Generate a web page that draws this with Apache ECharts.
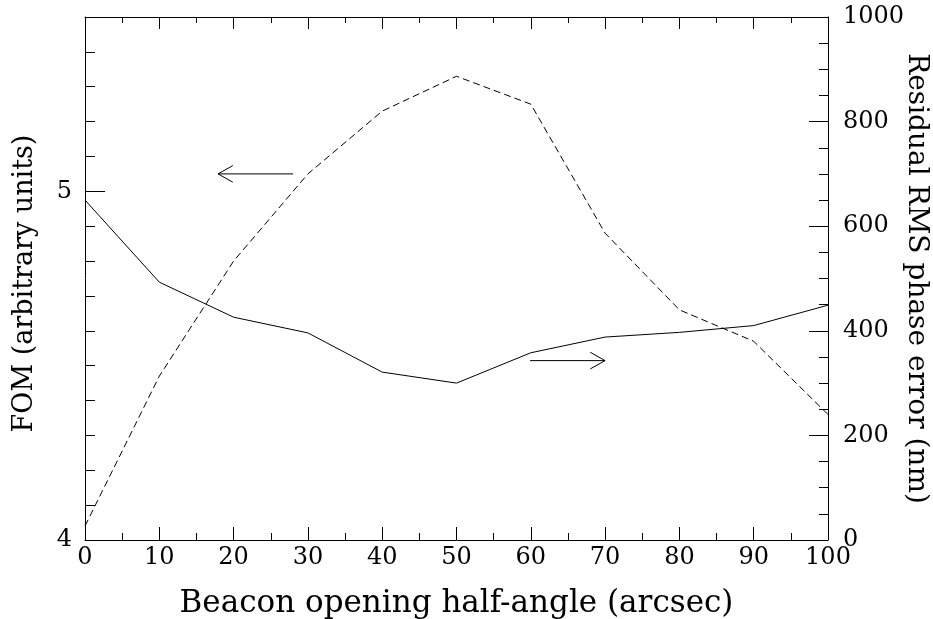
<!DOCTYPE html>
<html>
<head>
<meta charset="utf-8">
<title>FOM vs beacon opening half-angle</title>
<script src="https://cdn.jsdelivr.net/npm/echarts@6/dist/echarts.min.js"></script>
<style>
  html, body { margin: 0; padding: 0; background: #fff; }
  #main { width: 933px; height: 619px; }
</style>
</head>
<body>
<div id="main"></div>
<script>
// beacon opening half-angle (arcsec)
var halfAngle = [0, 10, 20, 30, 40, 50, 60, 70, 80, 90, 100];
// FOM (left axis, dashed)
var fomValues = [4.04, 4.47, 4.80, 5.05, 5.23, 5.33, 5.25, 4.88, 4.66, 4.57, 4.36];
// residual RMS phase error in nm (right axis, solid)
var rmsValues = [650, 493, 426, 396, 321, 300, 358, 388, 397, 410, 449];
// arrows: tail x, tail y, tip x, tip y
var arrowFom = [28.0, 5.05, 17.9, 5.05];
var arrowRms = [59.9, 343, 70.0, 343];

var fomData = [];
var rmsData = [];
for (var i = 0; i < halfAngle.length; i++) {
  fomData.push([halfAngle[i], fomValues[i]]);
  rmsData.push([halfAngle[i], rmsValues[i]]);
}

var fontName = 'DejaVu Serif';

function renderArrow(params, api) {
  var p0 = api.coord([api.value(0), api.value(1)]);
  var p1 = api.coord([api.value(2), api.value(3)]);
  var ang = Math.atan2(p1[1] - p0[1], p1[0] - p0[0]);
  var len = 17, spread = 0.51;
  var a1 = [p1[0] - len * Math.cos(ang - spread), p1[1] - len * Math.sin(ang - spread)];
  var a2 = [p1[0] - len * Math.cos(ang + spread), p1[1] - len * Math.sin(ang + spread)];
  var st = { stroke: '#000', lineWidth: 1, fill: null };
  return {
    type: 'group',
    children: [
      { type: 'polyline', shape: { points: [p0, p1] }, style: st },
      { type: 'polyline', shape: { points: [a1, p1, a2] }, style: st }
    ]
  };
}

var myChart = echarts.init(document.getElementById('main'));

var option = {
  animation: false,
  backgroundColor: '#fff',
  grid: { left: 85, right: 105, top: 17, bottom: 79, containLabel: false, outerBoundsMode: 'none' },
  xAxis: [
    {
      type: 'value',
      position: 'bottom',
      min: 0, max: 100, interval: 10,
      name: 'Beacon opening half-angle (arcsec)',
      nameLocation: 'middle',
      nameGap: 48,
      nameTextStyle: { fontFamily: fontName, fontSize: 31, color: '#000' },
      axisLine: { show: true, lineStyle: { color: '#000', width: 1 } },
      axisTick: { show: true, inside: true, length: 13, lineStyle: { color: '#000' } },
      minorTick: { show: true, splitNumber: 2, length: 7, lineStyle: { color: '#000' } },
      axisLabel: { fontFamily: fontName, fontSize: 24, color: '#000', margin: 6 },
      splitLine: { show: false }
    },
    {
      type: 'value',
      position: 'top',
      min: 0, max: 100, interval: 10,
      axisLine: { show: true, lineStyle: { color: '#000', width: 1 } },
      axisTick: { show: true, inside: true, length: 12, lineStyle: { color: '#000' } },
      minorTick: { show: true, splitNumber: 2, length: 6, lineStyle: { color: '#000' } },
      axisLabel: { show: false },
      splitLine: { show: false }
    }
  ],
  yAxis: [
    {
      type: 'value',
      position: 'left',
      min: 4, max: 5.5, interval: 1,
      name: 'FOM (arbitrary units)',
      nameLocation: 'middle',
      nameGap: 47,
      nameTextStyle: { fontFamily: fontName, fontSize: 27, color: '#000', padding: [0, 10, 0, 0] },
      axisLine: { show: true, lineStyle: { color: '#000', width: 1 } },
      axisTick: { show: true, inside: true, length: 20, lineStyle: { color: '#000' } },
      axisLabel: { fontFamily: fontName, fontSize: 24, color: '#000', margin: 13, showMaxLabel: false },
      splitLine: { show: false }
    },
    {
      type: 'value',
      position: 'left',
      min: 4, max: 5.5, interval: 0.1,
      axisLine: { show: false },
      axisTick: { show: true, inside: true, length: 10, lineStyle: { color: '#000' } },
      axisLabel: { show: false },
      splitLine: { show: false }
    },
    {
      type: 'value',
      position: 'right',
      min: 0, max: 1000, interval: 200,
      name: 'Residual RMS phase error (nm)',
      nameLocation: 'middle',
      nameGap: 74,
      nameRotate: -90,
      nameMoveOverlap: false,
      nameTextStyle: { fontFamily: fontName, fontSize: 28, color: '#000' },
      axisLine: { show: true, lineStyle: { color: '#000', width: 1 } },
      axisTick: { show: true, inside: true, length: 19, lineStyle: { color: '#000' } },
      minorTick: { show: true, splitNumber: 4, length: 9, lineStyle: { color: '#000' } },
      axisLabel: {
        fontFamily: fontName, fontSize: 24, color: '#000', margin: 15,
        formatter: function (v) { return String(v); }
      },
      splitLine: { show: false }
    }
  ],
  series: [
    {
      name: 'FOM',
      type: 'line',
      xAxisIndex: 0,
      yAxisIndex: 0,
      data: fomData,
      showSymbol: false,
      symbol: 'none',
      lineStyle: { color: '#000', width: 1, type: [7, 4] }
    },
    {
      name: 'RMS',
      type: 'line',
      xAxisIndex: 0,
      yAxisIndex: 2,
      data: rmsData,
      showSymbol: false,
      symbol: 'none',
      lineStyle: { color: '#000', width: 1, type: 'solid' }
    },
    {
      type: 'custom',
      xAxisIndex: 0,
      yAxisIndex: 0,
      renderItem: renderArrow,
      data: [arrowFom]
    },
    {
      type: 'custom',
      xAxisIndex: 0,
      yAxisIndex: 2,
      renderItem: renderArrow,
      data: [arrowRms]
    }
  ]
};

myChart.setOption(option);
window.addEventListener('resize', function () {
  myChart.resize();
});
</script>
</body>
</html>
